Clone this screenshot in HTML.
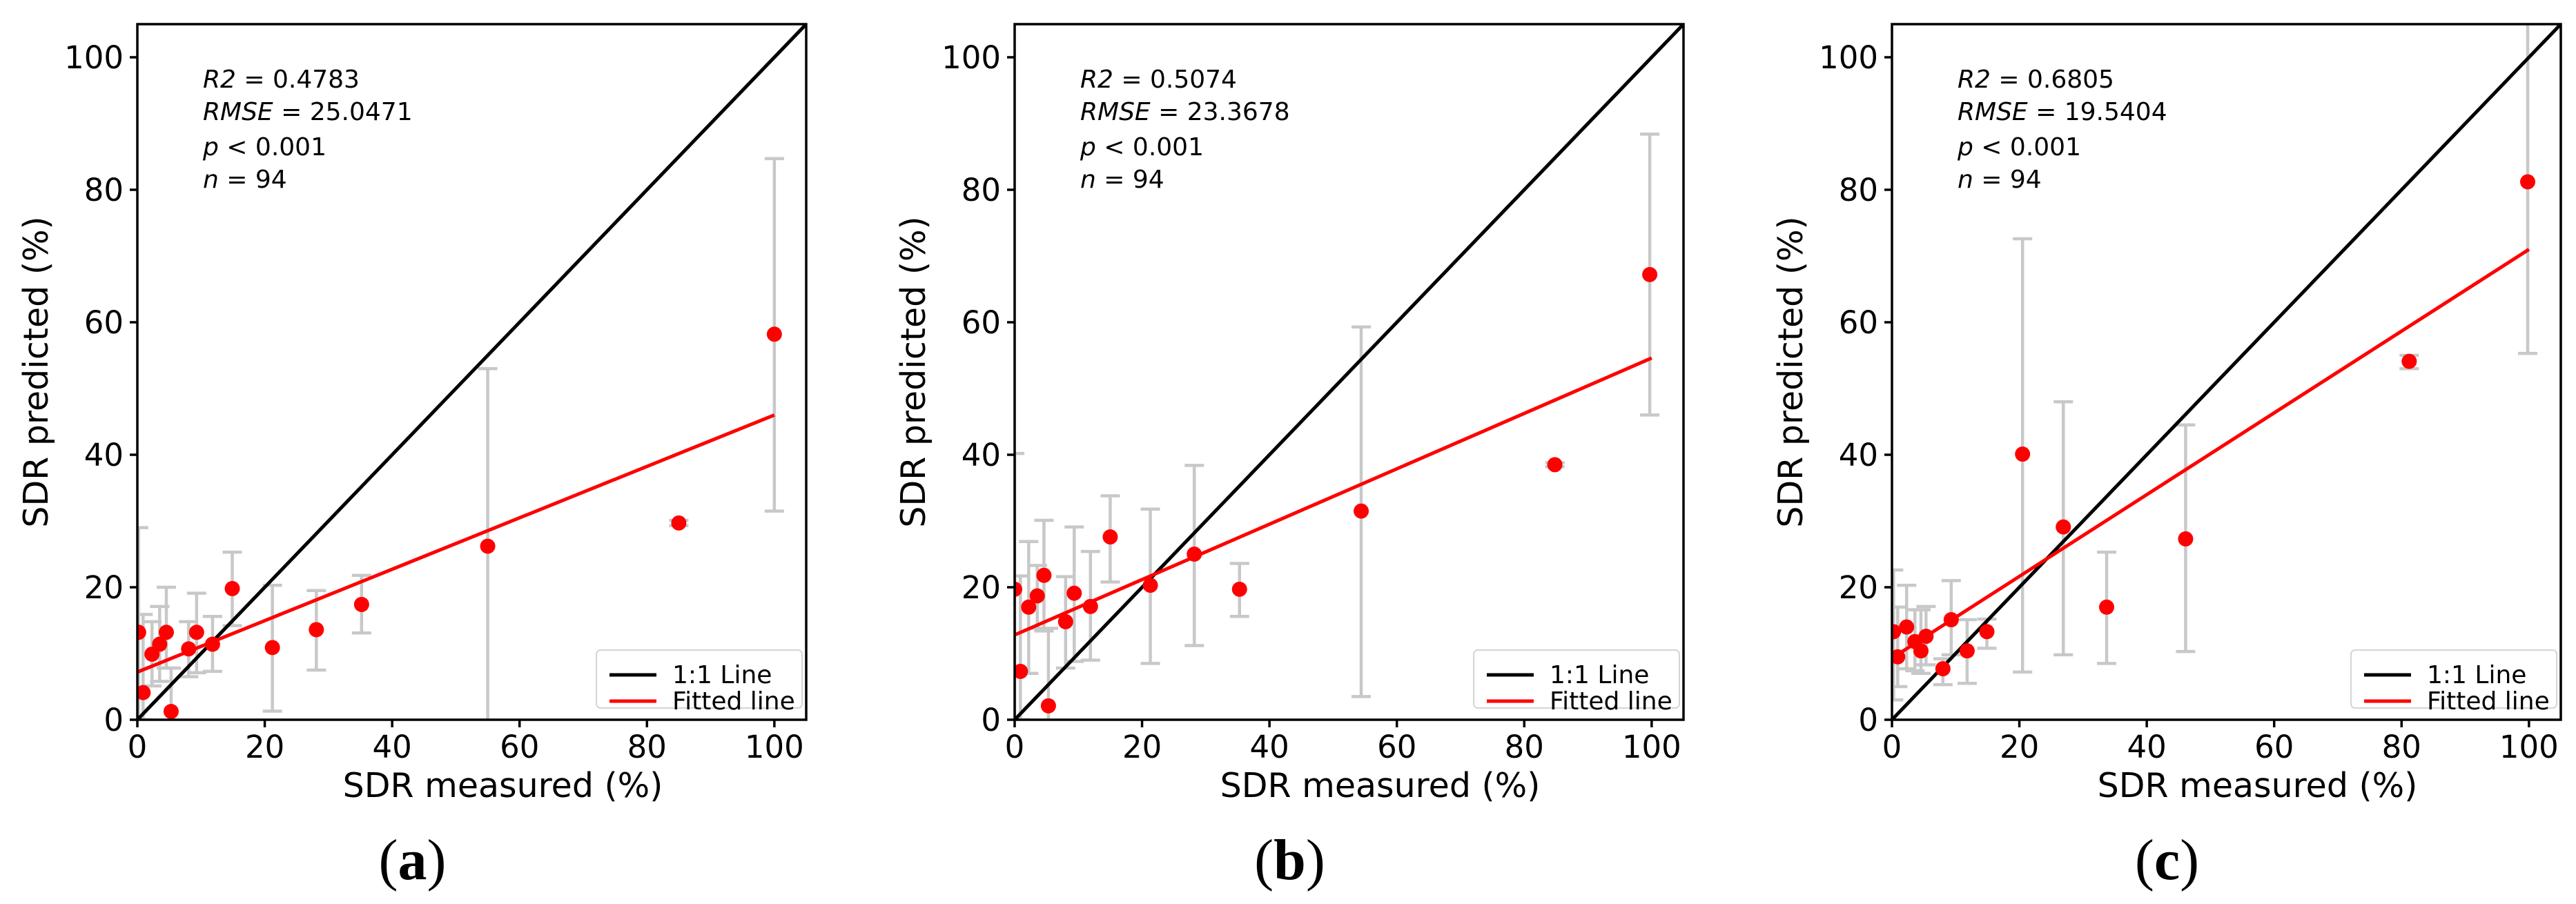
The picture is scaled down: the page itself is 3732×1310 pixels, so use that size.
<!DOCTYPE html>
<html><head><meta charset="utf-8"><style>
html,body{margin:0;padding:0;background:#fff;}
svg{display:block;}
text{font-family:"DejaVu Sans","Liberation Sans",sans-serif;fill:#000;}
.cap{font-family:"Liberation Serif",serif;}
</style></head><body>
<svg id="fig" width="3732" height="1310" viewBox="0 0 3732 1310" xmlns="http://www.w3.org/2000/svg"></svg>
<script>
const panelLabels = ["a","b","c"];
const statsR2 = ["0.4783","0.5074","0.6805"];
const statsRMSE = ["25.0471","23.3678","19.5404"];
const xA = [0.2,0.9,2.3,3.5,4.55,5.3,8.05,9.3,11.8,14.9,21.2,28.1,35.2,55,85,100];
const yA = [13.2,4.1,9.9,11.4,13.2,1.25,10.7,13.2,11.4,19.8,10.9,13.6,17.4,26.2,29.7,58.2];
const loA = [0,0,5.1,5.8,7.8,-5,6.5,7.1,7.3,14.2,1.3,7.5,13.1,-10,29.3,31.5];
const hiA = [29,15.9,14.8,17.1,20.0,7.8,14.8,19.1,15.6,25.3,20.3,19.5,21.8,53,30.1,84.7];
const xB = [0,0.9,2.2,3.55,4.6,5.3,8.0,9.35,11.9,15.0,21.3,28.2,35.3,54.4,84.8,99.7];
const yB = [19.7,7.3,17.0,18.7,21.8,2.1,14.8,19.1,17.1,27.6,20.3,25.0,19.7,31.5,38.5,67.2];
const loB = [0,0,7.0,13.8,13.4,-5,7.8,8.8,9.0,20.8,8.5,11.2,15.6,3.5,38.2,46];
const hiB = [40.2,21.7,26.9,23.3,30.1,13.8,21.6,29.1,25.4,33.8,31.8,38.4,23.6,59.3,38.8,88.4];
const xC = [0.25,0.9,2.3,3.6,4.55,5.35,8.0,9.3,11.8,14.9,20.5,26.9,33.7,46.1,81.2,99.8];
const yC = [13.3,9.5,14.0,11.8,10.4,12.6,7.7,15.1,10.4,13.3,40.1,29.1,17.0,27.3,54.1,81.2];
const loC = [3,5.0,7.7,7.4,7.0,8.3,5.3,9.8,5.5,10.8,7.2,9.8,8.5,10.3,53,55.3];
const hiC = [22.6,17,20.3,16.6,16.6,17.1,9.2,21.0,15.1,15.2,72.6,48,25.3,44.5,55,110];
const fitStart = [7.2,12.8,9.3];
const fitEnd = [46,54.6,71];
const tickVals = [0,20,40,60,80,100];

const NS="http://www.w3.org/2000/svg";
const svg=document.getElementById('fig');
function mk(tag,attrs,parent){const e=document.createElementNS(NS,tag);for(const k in attrs)e.setAttribute(k,attrs[k]);(parent||svg).appendChild(e);return e;}
const X=[xA,xB,xC],Y=[yA,yB,yC],LO=[loA,loB,loC],HI=[hiA,hiB,hiC];
const W=969,H=1008,TOP=35,BOT=1043;
for(let p=0;p<3;p++){
  const L=199+p*1271;
  const sx=v=>L+v*W/105, sy=v=>BOT-v*H/105;
  const cl=v=>Math.max(0,Math.min(105,v));
  const g=mk('g',{});
  
  
  const defs=mk('defs',{},g);
  const cp=mk('clipPath',{id:'clip'+p},defs);
  mk('rect',{x:L,y:TOP,width:W,height:H},cp);
  const plot=mk('g',{'clip-path':'url(#clip'+p+')'},g);
  for(let i=0;i<X[p].length;i++){
    const x=sx(X[p][i]);
    const eb=mk('g',{stroke:'#c8c8c8','stroke-width':4.5},plot);
    
    
    mk('line',{x1:x,x2:x,y1:sy(cl(LO[p][i])),y2:sy(cl(HI[p][i]))},eb);
    if(LO[p][i]>=0) mk('line',{x1:x-14,x2:x+14,y1:sy(LO[p][i]),y2:sy(LO[p][i])},eb);
    if(HI[p][i]<=105) mk('line',{x1:x-14,x2:x+14,y1:sy(HI[p][i]),y2:sy(HI[p][i])},eb);
  }
  const one=mk('line',{x1:sx(0),y1:sy(0),x2:sx(105),y2:sy(105),stroke:'#000','stroke-width':5},plot);
  
  
  const fit=mk('line',{x1:sx(0),y1:sy(fitStart[p]),x2:sx(100),y2:sy(fitEnd[p]),stroke:'#ff0000','stroke-width':5},plot);
  
  
  for(let i=0;i<X[p].length;i++){
    const c=mk('circle',{cx:sx(X[p][i]),cy:sy(Y[p][i]),r:11,fill:'#ff0000'},plot);
    
    
  }
  const ax=mk('rect',{x:L,y:TOP,width:W,height:H,fill:'none',stroke:'#000','stroke-width':3.5},g);
  
  
  for(const t of tickVals){
    mk('line',{x1:sx(t),x2:sx(t),y1:BOT,y2:BOT+11,stroke:'#000','stroke-width':3.5},g);
    const tx=mk('text',{x:sx(t),y:BOT+55,'font-size':45,'text-anchor':'middle'},g);
    tx.textContent=t;
    
    
    mk('line',{x1:L-11,x2:L,y1:sy(t),y2:sy(t),stroke:'#000','stroke-width':3.5},g);
    const ty=mk('text',{x:L-20,y:sy(t)+16,'font-size':45,'text-anchor':'end'},g);
    ty.textContent=t;
    
    
  }
  const xt=mk('text',{x:L+W/2+45,y:1155,'font-size':49,'text-anchor':'middle'},g);
  xt.textContent='SDR measured (%)';
  
  
  const yt=mk('text',{x:0,y:0,'font-size':49,'text-anchor':'middle',transform:`translate(${L-130},${TOP+H/2}) rotate(-90)`},g);
  yt.textContent='SDR predicted (%)';
  
  
  const ann=mk('g',{'font-size':36},g);
  
  
  const lines=[['R2',' = '+statsR2[p]],['RMSE',' = '+statsRMSE[p]],['p',' < 0.001'],['n',' = 94']];
  const ys=[127,174,225,272];
  lines.forEach((ln,k)=>{
    const t=mk('text',{x:L+95,y:ys[k]},ann);
    const a=mk('tspan',{'font-style':'italic'},t);a.textContent=ln[0];
    const b=mk('tspan',{},t);b.textContent=ln[1];
  });
  const lg=mk('g',{},g);
  
  
  mk('rect',{x:L+665,y:942,width:298,height:84,rx:6,fill:'#fff',stroke:'#d5d5d5','stroke-width':2},lg);
  mk('line',{x1:L+684,x2:L+752,y1:978,y2:978,stroke:'#000','stroke-width':5},lg);
  mk('line',{x1:L+684,x2:L+752,y1:1016,y2:1016,stroke:'#ff0000','stroke-width':5},lg);
  const l1=mk('text',{x:L+775,y:990,'font-size':36},lg);l1.textContent='1:1 Line';
  const l2=mk('text',{x:L+775,y:1028,'font-size':36},lg);l2.textContent='Fitted line';
  const cap=mk('text',{x:L+W/2-86,y:1274,'font-size':84,'text-anchor':'middle','class':'cap'},g);
  
  
  const c1=mk('tspan',{},cap);c1.textContent='(';
  const c2=mk('tspan',{'font-weight':'bold'},cap);c2.textContent=panelLabels[p];
  const c3=mk('tspan',{},cap);c3.textContent=')';
}
</script>
</body></html>
